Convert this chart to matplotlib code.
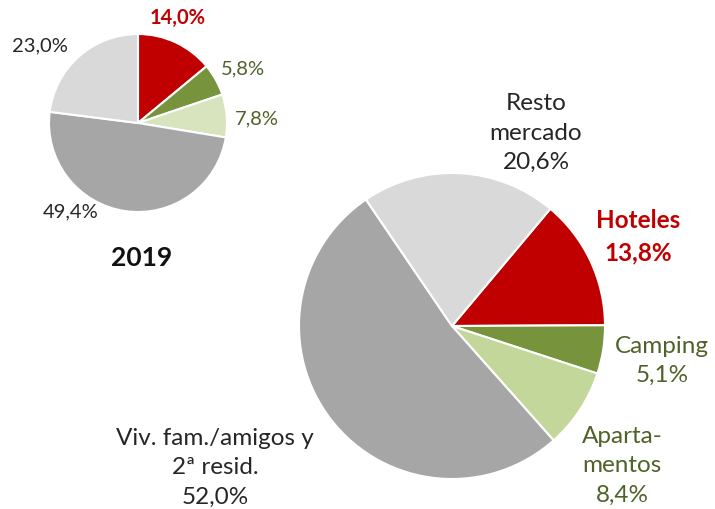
import matplotlib.pyplot as plt

# datos
categorias = ['Hoteles', 'Camping', 'Apartamentos', 'Viv. fam./amigos y 2ª resid.', 'Resto mercado']
valores_2019 = [14.0, 5.8, 7.8, 49.4, 23.0]
valores_2020 = [13.8, 5.1, 8.4, 52.0, 20.6]
etiquetas_2020 = ['Hoteles\n13,8%', 'Camping\n5,1%', 'Aparta-\nmentos\n8,4%',
                  'Viv. fam./amigos y\n2ª resid.\n52,0%', 'Resto\nmercado\n20,6%']

colores_2019 = ['#C00000', '#77933C', '#D7E4BD', '#A6A6A6', '#D9D9D9']
colores_2020 = ['#C00000', '#77933C', '#C4D79B', '#A6A6A6', '#D9D9D9']
col_texto = ['#C00000', '#4F6228', '#4F6228', '#262626', '#262626']

plt.rcParams['font.family'] = ['Lato', 'DejaVu Sans']

W, H = 715, 510
fig = plt.figure(figsize=(W / 100, H / 100), dpi=100)
ax = fig.add_axes([0, 0, 1, 1])
ax.set_xlim(0, W)
ax.set_ylim(0, H)
ax.set_aspect('equal')
ax.axis('off')


def fmt(v):
    return ('%.1f%%' % v).replace('.', ',')


# pequeño: 2019
ax.pie(valores_2019, colors=colores_2019, startangle=90, counterclock=False,
       center=(138, H - 124), radius=89, frame=True,
       wedgeprops=dict(edgecolor='white', linewidth=1.5))
pos_2019 = [(178, 18), (243, 69), (257, 119), (71, 212), (40, 46)]
for v, (x, y), c, i in zip(valores_2019, pos_2019, col_texto, range(5)):
    ax.text(x, H - y, fmt(v), color=c, fontsize=14.5, ha='center', va='center',
            fontweight='bold' if i == 0 else 'normal')
ax.text(142, H - 258, '2019', fontsize=19, fontweight='bold', color='#111111',
        ha='center', va='center')

# grande
ax.pie(valores_2020, colors=colores_2020, startangle=50, counterclock=False,
       center=(452, H - 327), radius=153, frame=True,
       wedgeprops=dict(edgecolor='white', linewidth=1.5))
pos_2020 = [(638, 237), (662, 361), (622, 466), (215, 468), (536, 133)]
for lab, (x, y), c, i in zip(etiquetas_2020, pos_2020, col_texto, range(5)):
    ax.text(x, H - y, lab, color=c, fontsize=17.5, ha='center', va='center',
            linespacing=1.5, fontweight='bold' if i == 0 else 'normal')

ax.set_xlim(0, W)
ax.set_ylim(0, H)
ax.axis('off')
fig.savefig('out.png', dpi=100, facecolor='white')
